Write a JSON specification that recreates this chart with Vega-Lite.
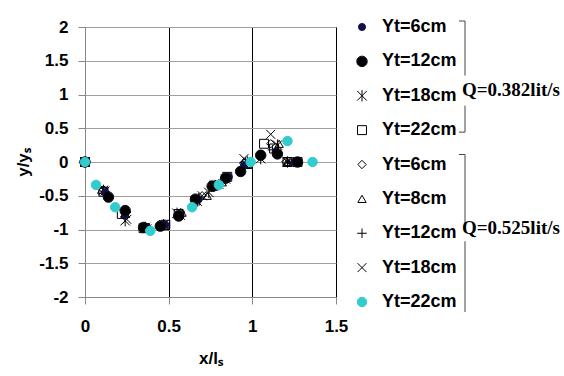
{
  "$schema": "https://vega.github.io/schema/vega-lite/v6.json",
  "autosize": {"type": "pad"},
  "padding": {"left": 14, "top": 17, "right": 0, "bottom": 0},
  "background": "white",
  "bounds": "flush",
  "spacing": 16,
  "config": {"font": "Liberation Sans", "view": {"stroke": "#000000", "strokeWidth": 1}},
  "datasets": {
    "pts": [
      {"s": "0.525-6", "x": 0, "y": 0}, {"s": "0.525-6", "x": 0.11, "y": -0.41}, {"s": "0.525-6", "x": 0.25, "y": -0.74}, {"s": "0.525-6", "x": 0.36, "y": -0.96}, {"s": "0.525-6", "x": 0.47, "y": -0.92}, {"s": "0.525-6", "x": 0.57, "y": -0.75}, {"s": "0.525-6", "x": 0.7, "y": -0.5}, {"s": "0.525-6", "x": 0.8, "y": -0.32}, {"s": "0.525-6", "x": 0.95, "y": -0.02}, {"s": "0.525-6", "x": 1.11, "y": 0.27}, {"s": "0.525-6", "x": 1.2, "y": 0},
      {"s": "0.525-8", "x": 0, "y": 0}, {"s": "0.525-8", "x": 0.1, "y": -0.41}, {"s": "0.525-8", "x": 0.24, "y": -0.76}, {"s": "0.525-8", "x": 0.38, "y": -0.96}, {"s": "0.525-8", "x": 0.48, "y": -0.95}, {"s": "0.525-8", "x": 0.58, "y": -0.75}, {"s": "0.525-8", "x": 0.73, "y": -0.5}, {"s": "0.525-8", "x": 0.82, "y": -0.3}, {"s": "0.525-8", "x": 0.97, "y": -0.03}, {"s": "0.525-8", "x": 1.16, "y": 0.27}, {"s": "0.525-8", "x": 1.21, "y": 0},
      {"s": "0.525-12", "x": 0, "y": 0}, {"s": "0.525-12", "x": 0.12, "y": -0.44}, {"s": "0.525-12", "x": 0.24, "y": -0.82}, {"s": "0.525-12", "x": 0.37, "y": -0.98}, {"s": "0.525-12", "x": 0.47, "y": -0.94}, {"s": "0.525-12", "x": 0.56, "y": -0.77}, {"s": "0.525-12", "x": 0.68, "y": -0.53}, {"s": "0.525-12", "x": 0.78, "y": -0.34}, {"s": "0.525-12", "x": 0.96, "y": 0}, {"s": "0.525-12", "x": 1.12, "y": 0.18}, {"s": "0.525-12", "x": 1.22, "y": 0},
      {"s": "0.525-18", "x": 0, "y": 0}, {"s": "0.525-18", "x": 0.12, "y": -0.43}, {"s": "0.525-18", "x": 0.25, "y": -0.85}, {"s": "0.525-18", "x": 0.37, "y": -0.99}, {"s": "0.525-18", "x": 0.46, "y": -0.94}, {"s": "0.525-18", "x": 0.57, "y": -0.79}, {"s": "0.525-18", "x": 0.7, "y": -0.5}, {"s": "0.525-18", "x": 0.8, "y": -0.33}, {"s": "0.525-18", "x": 0.95, "y": 0.05}, {"s": "0.525-18", "x": 1.11, "y": 0.41}, {"s": "0.525-18", "x": 1.21, "y": 0},
      {"s": "0.382-22", "x": 0, "y": 0}, {"s": "0.382-22", "x": 0.11, "y": -0.44}, {"s": "0.382-22", "x": 0.22, "y": -0.77}, {"s": "0.382-22", "x": 0.35, "y": -0.98}, {"s": "0.382-22", "x": 0.48, "y": -0.93}, {"s": "0.382-22", "x": 0.56, "y": -0.77}, {"s": "0.382-22", "x": 0.66, "y": -0.57}, {"s": "0.382-22", "x": 0.77, "y": -0.35}, {"s": "0.382-22", "x": 0.85, "y": -0.22}, {"s": "0.382-22", "x": 0.97, "y": -0.03}, {"s": "0.382-22", "x": 1.07, "y": 0.27}, {"s": "0.382-22", "x": 1.13, "y": 0.2}, {"s": "0.382-22", "x": 1.21, "y": 0}, {"s": "0.382-22", "x": 1.27, "y": 0},
      {"s": "0.382-18", "x": 0, "y": 0}, {"s": "0.382-18", "x": 0.11, "y": -0.42}, {"s": "0.382-18", "x": 0.24, "y": -0.87}, {"s": "0.382-18", "x": 0.36, "y": -0.97}, {"s": "0.382-18", "x": 0.47, "y": -0.93}, {"s": "0.382-18", "x": 0.55, "y": -0.76}, {"s": "0.382-18", "x": 0.67, "y": -0.58}, {"s": "0.382-18", "x": 0.74, "y": -0.45}, {"s": "0.382-18", "x": 0.84, "y": -0.25}, {"s": "0.382-18", "x": 0.97, "y": 0}, {"s": "0.382-18", "x": 1.05, "y": 0.05}, {"s": "0.382-18", "x": 1.15, "y": 0.25}, {"s": "0.382-18", "x": 1.21, "y": 0},
      {"s": "0.382-6", "x": 0, "y": 0}, {"s": "0.382-6", "x": 0.12, "y": -0.45}, {"s": "0.382-6", "x": 0.24, "y": -0.78}, {"s": "0.382-6", "x": 0.37, "y": -0.97}, {"s": "0.382-6", "x": 0.48, "y": -0.93}, {"s": "0.382-6", "x": 0.57, "y": -0.78}, {"s": "0.382-6", "x": 0.68, "y": -0.55}, {"s": "0.382-6", "x": 0.77, "y": -0.38}, {"s": "0.382-6", "x": 0.86, "y": -0.22}, {"s": "0.382-6", "x": 0.95, "y": -0.05}, {"s": "0.382-6", "x": 1.05, "y": 0.12}, {"s": "0.382-6", "x": 1.14, "y": 0.15}, {"s": "0.382-6", "x": 1.25, "y": 0},
      {"s": "0.382-12", "x": 0, "y": 0}, {"s": "0.382-12", "x": 0.14, "y": -0.52}, {"s": "0.382-12", "x": 0.24, "y": -0.72}, {"s": "0.382-12", "x": 0.35, "y": -0.97}, {"s": "0.382-12", "x": 0.45, "y": -0.95}, {"s": "0.382-12", "x": 0.56, "y": -0.8}, {"s": "0.382-12", "x": 0.66, "y": -0.55}, {"s": "0.382-12", "x": 0.76, "y": -0.36}, {"s": "0.382-12", "x": 0.84, "y": -0.24}, {"s": "0.382-12", "x": 0.93, "y": -0.14}, {"s": "0.382-12", "x": 1.05, "y": 0.1}, {"s": "0.382-12", "x": 1.15, "y": 0.12}, {"s": "0.382-12", "x": 1.27, "y": 0},
      {"s": "0.525-22", "x": 0, "y": 0}, {"s": "0.525-22", "x": 0.066, "y": -0.34}, {"s": "0.525-22", "x": 0.18, "y": -0.67}, {"s": "0.525-22", "x": 0.39, "y": -1.02}, {"s": "0.525-22", "x": 0.64, "y": -0.67}, {"s": "0.525-22", "x": 0.8, "y": -0.34}, {"s": "0.525-22", "x": 0.99, "y": 0}, {"s": "0.525-22", "x": 1.21, "y": 0.31}, {"s": "0.525-22", "x": 1.36, "y": 0}
    ],
    "leg": [
      {"s": "0.382-6", "label": "Yt=6cm", "group": "Q=0.382lit/s", "row": 1},
      {"s": "0.382-12", "label": "Yt=12cm", "group": "Q=0.382lit/s", "row": 2},
      {"s": "0.382-18", "label": "Yt=18cm", "group": "Q=0.382lit/s", "row": 3},
      {"s": "0.382-22", "label": "Yt=22cm", "group": "Q=0.382lit/s", "row": 4},
      {"s": "0.525-6", "label": "Yt=6cm", "group": "Q=0.525lit/s", "row": 5},
      {"s": "0.525-8", "label": "Yt=8cm", "group": "Q=0.525lit/s", "row": 6},
      {"s": "0.525-12", "label": "Yt=12cm", "group": "Q=0.525lit/s", "row": 7},
      {"s": "0.525-18", "label": "Yt=18cm", "group": "Q=0.525lit/s", "row": 8},
      {"s": "0.525-22", "label": "Yt=22cm", "group": "Q=0.525lit/s", "row": 9}
    ]
  },
  "hconcat": [
    {
      "width": 251,
      "height": 270,
      "data": {"name": "pts"},
      "mark": {"type": "point", "filled": false, "opacity": 1, "strokeWidth": 1},
      "encoding": {
        "x": {"field": "x", "type": "quantitative",
          "scale": {"domain": [0, 1.5], "nice": false, "zero": false},
          "axis": {"values": [0, 0.5, 1, 1.5], "labelExpr": "toString(datum.value)", "grid": true, "gridColor": "#000000", "gridOpacity": 1, "domainColor": "#888888", "tickColor": "#888888", "tickSize": 7, "labelFont": "Liberation Sans", "labelFontWeight": "bold", "labelFontSize": 17, "labelColor": "#000000", "labelPadding": 14, "labelFlush": false, "labelOverlap": false, "title": "x/lₛ", "titleFont": "Liberation Sans", "titleFontSize": 17, "titleFontWeight": "bold", "titleColor": "#000000", "titlePadding": 16}},
        "y": {"field": "y", "type": "quantitative",
          "scale": {"domain": [-2, 2], "nice": false, "zero": false},
          "axis": {"values": [-2, -1.5, -1, -0.5, 0, 0.5, 1, 1.5, 2], "labelExpr": "toString(datum.value)", "grid": true, "gridColor": "#a0a0a0", "gridOpacity": 1, "domainColor": "#888888", "tickColor": "#888888", "tickSize": 7, "labelFont": "Liberation Sans", "labelFontWeight": "bold", "labelFontSize": 17, "labelColor": "#000000", "labelPadding": 10, "labelFlush": false, "labelOverlap": false, "title": "y/yₛ", "titleFont": "Liberation Sans", "titleFontSize": 17, "titleFontWeight": "bold", "titleColor": "#000000", "titlePadding": 6}},
        "shape": {"field": "s", "type": "nominal", "legend": null,
          "scale": {"domain": ["0.382-6", "0.382-12", "0.382-18", "0.382-22", "0.525-6", "0.525-8", "0.525-12", "0.525-18", "0.525-22"],
            "range": ["circle", "circle", "M-1,-1L1,1M-1,1L1,-1M0,-1.2L0,1.2", "square", "diamond", "triangle-up", "M-1,0L1,0M0,-1L0,1", "M-1,-1L1,1M-1,1L1,-1", "circle"]}},
        "stroke": {"field": "s", "type": "nominal", "legend": null,
          "scale": {"domain": ["0.382-6", "0.382-12", "0.382-18", "0.382-22", "0.525-6", "0.525-8", "0.525-12", "0.525-18", "0.525-22"],
            "range": ["#12124a", "#0a0a20", "#000000", "#000000", "#000000", "#000000", "#000000", "#000000", "#33cccc"]}},
        "fill": {"field": "s", "type": "nominal", "legend": null,
          "scale": {"domain": ["0.382-6", "0.382-12", "0.382-18", "0.382-22", "0.525-6", "0.525-8", "0.525-12", "0.525-18", "0.525-22"],
            "range": ["#12124a", "#000000", "transparent", "transparent", "transparent", "transparent", "transparent", "transparent", "#33cccc"]}},
        "size": {"field": "s", "type": "nominal", "legend": null,
          "scale": {"type": "ordinal", "domain": ["0.382-6", "0.382-12", "0.382-18", "0.382-22", "0.525-6", "0.525-8", "0.525-12", "0.525-18", "0.525-22"],
            "range": [50, 110, 90, 80, 70, 70, 90, 80, 90]}}
      }
    },
    {
      "width": 200,
      "height": 275,
      "view": {"stroke": null},
      "data": {"name": "leg"},
      "layer": [
        {
          "mark": {"type": "point", "filled": false, "opacity": 1, "strokeWidth": 1},
          "encoding": {
            "x": {"datum": 10, "type": "quantitative", "scale": {"domain": [0, 200], "nice": false, "zero": false}, "axis": null},
            "y": {"field": "row", "type": "quantitative", "scale": {"domain": [1, 9], "reverse": true, "nice": false, "zero": false}, "axis": null},
            "shape": {"field": "s", "type": "nominal", "legend": null,
              "scale": {"domain": ["0.382-6", "0.382-12", "0.382-18", "0.382-22", "0.525-6", "0.525-8", "0.525-12", "0.525-18", "0.525-22"],
                "range": ["circle", "circle", "M-1,-1L1,1M-1,1L1,-1M0,-1.2L0,1.2", "square", "diamond", "triangle-up", "M-1,0L1,0M0,-1L0,1", "M-1,-1L1,1M-1,1L1,-1", "circle"]}},
            "stroke": {"field": "s", "type": "nominal", "legend": null,
              "scale": {"domain": ["0.382-6", "0.382-12", "0.382-18", "0.382-22", "0.525-6", "0.525-8", "0.525-12", "0.525-18", "0.525-22"],
                "range": ["#12124a", "#0a0a20", "#000000", "#000000", "#000000", "#000000", "#000000", "#000000", "#33cccc"]}},
            "fill": {"field": "s", "type": "nominal", "legend": null,
              "scale": {"domain": ["0.382-6", "0.382-12", "0.382-18", "0.382-22", "0.525-6", "0.525-8", "0.525-12", "0.525-18", "0.525-22"],
                "range": ["#12124a", "#000000", "transparent", "transparent", "transparent", "transparent", "transparent", "transparent", "#33cccc"]}},
            "size": {"field": "s", "type": "nominal", "legend": null,
              "scale": {"type": "ordinal", "domain": ["0.382-6", "0.382-12", "0.382-18", "0.382-22", "0.525-6", "0.525-8", "0.525-12", "0.525-18", "0.525-22"],
                "range": [50, 110, 90, 80, 70, 70, 90, 80, 90]}}
          }
        },
        {
          "mark": {"type": "text", "align": "left", "baseline": "middle", "font": "Liberation Sans", "fontWeight": "bold", "fontSize": 18, "color": "#000000"},
          "encoding": {
            "x": {"datum": 30, "type": "quantitative"},
            "y": {"field": "row", "type": "quantitative"},
            "text": {"field": "label", "type": "nominal"}
          }
        },
        {
          "transform": [
            {"filter": "datum.group === 'Q=0.382lit/s'"},
            {"aggregate": [{"op": "min", "field": "row", "as": "r0"}, {"op": "max", "field": "row", "as": "r1"}, {"op": "mean", "field": "row", "as": "rm"}], "groupby": ["group"]}
          ],
          "layer": [
            {"mark": {"type": "rule", "color": "#444444", "yOffset": -6, "y2Offset": -3},
              "encoding": {"x": {"datum": 113, "type": "quantitative"}, "y": {"field": "r0", "type": "quantitative"}, "y2": {"field": "rm"}}},
            {"mark": {"type": "rule", "color": "#444444", "yOffset": 27, "y2Offset": 2},
              "encoding": {"x": {"datum": 113, "type": "quantitative"}, "y": {"field": "rm", "type": "quantitative"}, "y2": {"field": "r1"}}},
            {"mark": {"type": "rule", "color": "#444444", "yOffset": -6},
              "encoding": {"x": {"datum": 107, "type": "quantitative"}, "x2": {"datum": 113}, "y": {"field": "r0", "type": "quantitative"}}},
            {"mark": {"type": "rule", "color": "#444444", "yOffset": 2},
              "encoding": {"x": {"datum": 107, "type": "quantitative"}, "x2": {"datum": 113}, "y": {"field": "r1", "type": "quantitative"}}},
            {"mark": {"type": "text", "align": "left", "baseline": "middle", "dy": 11, "font": "Liberation Serif", "fontWeight": "bold", "fontSize": 19, "color": "#000000"},
              "encoding": {"x": {"datum": 110, "type": "quantitative"}, "y": {"field": "rm", "type": "quantitative"}, "text": {"field": "group", "type": "nominal"}}}
          ]
        },
        {
          "transform": [
            {"filter": "datum.group === 'Q=0.525lit/s'"},
            {"aggregate": [{"op": "min", "field": "row", "as": "r0"}, {"op": "max", "field": "row", "as": "r1"}, {"op": "mean", "field": "row", "as": "rm"}], "groupby": ["group"]}
          ],
          "layer": [
            {"mark": {"type": "rule", "color": "#444444", "yOffset": -10, "y2Offset": -10},
              "encoding": {"x": {"datum": 113, "type": "quantitative"}, "y": {"field": "r0", "type": "quantitative"}, "y2": {"field": "rm"}}},
            {"mark": {"type": "rule", "color": "#444444", "yOffset": 8, "y2Offset": 10},
              "encoding": {"x": {"datum": 113, "type": "quantitative"}, "y": {"field": "rm", "type": "quantitative"}, "y2": {"field": "r1"}}},
            {"mark": {"type": "rule", "color": "#444444", "yOffset": -10},
              "encoding": {"x": {"datum": 107, "type": "quantitative"}, "x2": {"datum": 113}, "y": {"field": "r0", "type": "quantitative"}}},
            {"mark": {"type": "text", "align": "left", "baseline": "middle", "dy": -5, "font": "Liberation Serif", "fontWeight": "bold", "fontSize": 19, "color": "#000000"},
              "encoding": {"x": {"datum": 110, "type": "quantitative"}, "y": {"field": "rm", "type": "quantitative"}, "text": {"field": "group", "type": "nominal"}}}
          ]
        }
      ]
    }
  ]
}
